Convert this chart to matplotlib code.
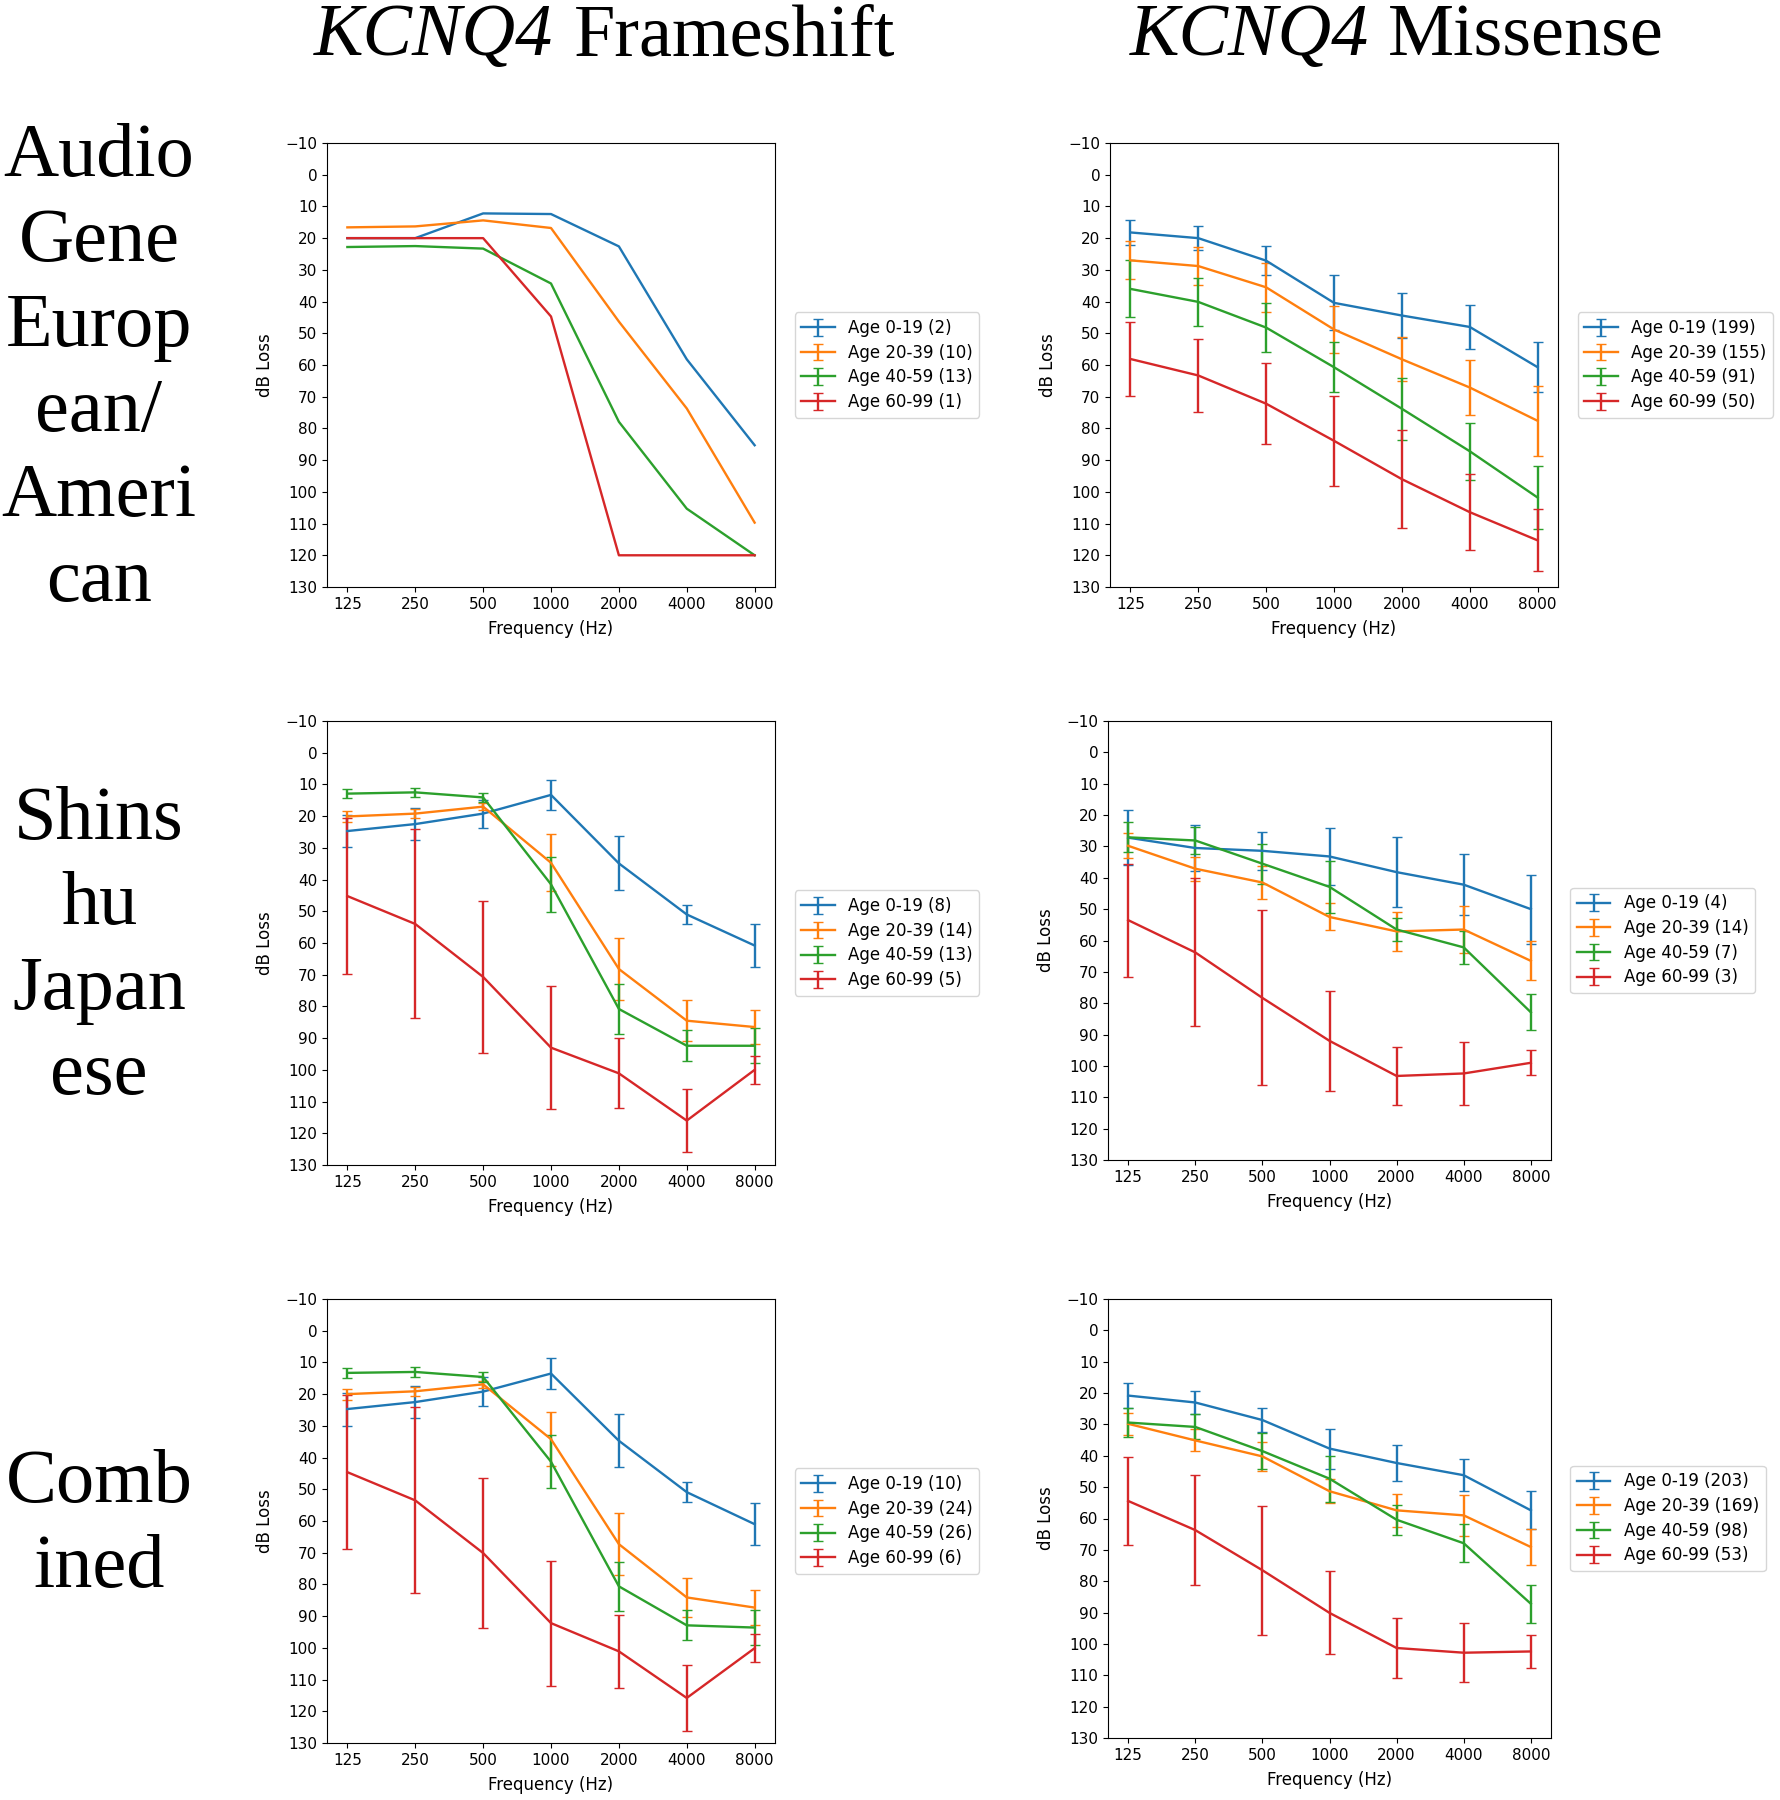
import matplotlib
matplotlib.use("Agg")
import matplotlib.pyplot as plt
import numpy as np

freqs = ["125", "250", "500", "1000", "2000", "4000", "8000"]
age_groups = ["Age 0-19", "Age 20-39", "Age 40-59", "Age 60-99"]
colors = ["#1f77b4", "#ff7f0e", "#2ca02c", "#d62728"]
col_titles = ["Frameshift", "Missense"]
gene = "KCNQ4"
row_labels = ["Audio\nGene\nEurop\nean/\nAmeri\ncan", "Shins\nhu\nJapan\nese", "Comb\nined"]

nan = np.nan

# AudioGene European/American, frameshift (no error bars)
ag_fs_n = [2, 10, 13, 1]
ag_fs_mean = [
    [20.0, 20.0, 12.2, 12.4, 22.6, 58.2, 85.3],
    [16.6, 16.3, 14.4, 16.8, 46.3, 73.7, 109.7],
    [22.8, 22.5, 23.3, 34.3, 77.9, 105.3, 120.0],
    [20.0, 20.0, 20.0, 44.7, 120.0, 120.0, 120.0],
]
ag_fs_err = [[nan] * 7 for _ in range(4)]

# AudioGene European/American, missense
ag_ms_n = [199, 155, 91, 50]
ag_ms_mean = [
    [18.2, 20.0, 27.1, 40.4, 44.4, 48.0, 60.7],
    [27.0, 28.8, 35.5, 48.8, 58.2, 67.1, 77.6],
    [36.0, 40.1, 48.2, 60.7, 73.8, 87.2, 101.8],
    [58.1, 63.3, 72.2, 83.9, 96.0, 106.4, 115.3],
]
ag_ms_err = [
    [4.0, 3.8, 4.5, 8.7, 7.0, 6.8, 7.8],
    [6.0, 6.0, 7.7, 7.3, 7.0, 8.8, 11.0],
    [9.0, 7.6, 7.7, 7.9, 9.8, 9.0, 10.0],
    [11.7, 11.4, 12.7, 14.2, 15.5, 12.0, 9.8],
]

# Shinshu Japanese, frameshift
sj_fs_n = [8, 14, 13, 5]
sj_fs_mean = [
    [24.7, 22.5, 19.2, 13.3, 34.9, 51.0, 60.8],
    [20.1, 19.2, 17.0, 34.7, 68.2, 84.5, 86.5],
    [12.9, 12.5, 14.1, 41.5, 80.8, 92.4, 92.4],
    [45.2, 54.0, 70.7, 93.0, 101.1, 116.0, 100.0],
]
sj_fs_err = [
    [5.0, 5.0, 4.4, 4.7, 8.5, 3.0, 6.7],
    [1.7, 1.4, 1.2, 9.0, 9.8, 6.4, 5.4],
    [1.5, 1.4, 1.5, 8.6, 7.8, 4.9, 5.5],
    [24.7, 29.8, 23.9, 19.4, 11.0, 10.0, 4.4],
]

# Shinshu Japanese, missense
sj_ms_n = [4, 14, 7, 3]
sj_ms_mean = [
    [27.2, 30.5, 31.4, 33.2, 38.2, 42.2, 50.0],
    [29.8, 37.1, 41.5, 52.5, 57.1, 56.5, 66.5],
    [27.1, 28.1, 35.5, 42.9, 56.5, 62.2, 82.9],
    [53.5, 63.8, 78.3, 92.0, 103.2, 102.4, 99.0],
]
sj_ms_err = [
    [8.7, 7.2, 6.0, 9.0, 11.2, 9.8, 11.0],
    [4.0, 3.8, 5.3, 4.3, 6.2, 7.5, 6.2],
    [4.8, 4.3, 6.4, 8.4, 3.6, 5.3, 5.8],
    [18.0, 23.6, 27.9, 16.0, 9.3, 10.0, 4.0],
]

# Combined, frameshift
cb_fs_n = [10, 24, 26, 6]
cb_fs_mean = [
    [24.7, 22.5, 19.2, 13.5, 34.7, 50.9, 61.0],
    [20.0, 19.1, 16.9, 34.2, 67.3, 84.1, 87.3],
    [13.3, 13.0, 14.6, 41.3, 80.6, 92.9, 93.6],
    [44.6, 53.5, 70.1, 92.2, 101.1, 115.8, 100.1],
]
cb_fs_err = [
    [5.2, 5.0, 4.5, 4.9, 8.4, 3.1, 6.6],
    [1.7, 1.5, 1.2, 8.6, 9.8, 6.2, 5.5],
    [1.7, 1.5, 1.5, 8.4, 7.7, 4.7, 5.5],
    [24.3, 29.3, 23.6, 19.7, 11.4, 10.3, 4.5],
]

# Combined, missense
cb_ms_n = [203, 169, 98, 53]
cb_ms_mean = [
    [20.8, 23.0, 28.6, 37.7, 42.3, 46.2, 57.4],
    [29.8, 35.1, 40.2, 51.3, 57.4, 59.0, 69.1],
    [29.4, 30.8, 38.5, 47.3, 60.4, 67.9, 87.2],
    [54.4, 63.7, 76.5, 90.1, 101.3, 102.8, 102.4],
]
cb_ms_err = [
    [3.9, 3.8, 3.7, 6.4, 5.6, 5.1, 6.1],
    [3.5, 3.5, 4.5, 3.9, 5.3, 6.5, 5.6],
    [4.5, 4.0, 5.8, 7.3, 4.8, 6.0, 6.0],
    [13.9, 17.5, 20.6, 13.2, 9.6, 9.5, 5.3],
]

panels = [
    (ag_fs_mean, ag_fs_err, ag_fs_n),
    (ag_ms_mean, ag_ms_err, ag_ms_n),
    (sj_fs_mean, sj_fs_err, sj_fs_n),
    (sj_ms_mean, sj_ms_err, sj_ms_n),
    (cb_fs_mean, cb_fs_err, cb_fs_n),
    (cb_ms_mean, cb_ms_err, cb_ms_n),
]

W, H = 1781, 1800
# axes boxes in pixels: x0, y0 (top), x1, y1 (bottom)
boxes = [
    (327, 143, 775, 587), (1110, 143, 1558, 587),
    (327, 721, 775, 1165), (1108, 721, 1551, 1160),
    (327, 1299, 775, 1743), (1108, 1299, 1551, 1738),
]

fig = plt.figure(figsize=(W / 100, H / 100), dpi=100)

x = np.arange(len(freqs))
for (mean, err, n), (x0, y0, x1, y1) in zip(panels, boxes):
    ax = fig.add_axes([x0 / W, 1 - y1 / H, (x1 - x0) / W, (y1 - y0) / H])
    for i in range(4):
        ax.errorbar(x, mean[i], yerr=err[i], color=colors[i], capsize=3.3,
                    linewidth=1.7, label=f"{age_groups[i]} ({n[i]})")
    ax.set_ylim(130, -10)
    ax.set_yticks(np.arange(-10, 131, 10))
    ax.set_xticks(x)
    ax.set_xticklabels(freqs)
    ax.tick_params(labelsize=11)
    ax.set_xlabel("Frequency (Hz)", fontsize=12, labelpad=6)
    ax.set_ylabel("dB Loss", fontsize=12, labelpad=8)
    ax.legend(loc="center left", bbox_to_anchor=(1.025, 0.5), fontsize=12,
              labelspacing=0.4)

# column titles: italic gene name followed by upright variant type
for gx, tx, title in zip([314, 1130], [574, 1388], col_titles):
    fig.text(gx / W, 1 - 55 / H, gene, ha="left", va="baseline", fontsize=53.5,
             family="Liberation Serif", style="italic")
    fig.text(tx / W, 1 - 55 / H, title, ha="left", va="baseline", fontsize=53.5,
             family="Liberation Serif")

for (x0, y0, x1, y1), label in zip(boxes[::2], row_labels):
    fig.text(99 / W, 1 - ((y0 + y1) / 2 + 5) / H, label, ha="center", va="center",
             fontsize=55, family="Liberation Serif", linespacing=1.3)

fig.savefig("out.png", dpi=100)
